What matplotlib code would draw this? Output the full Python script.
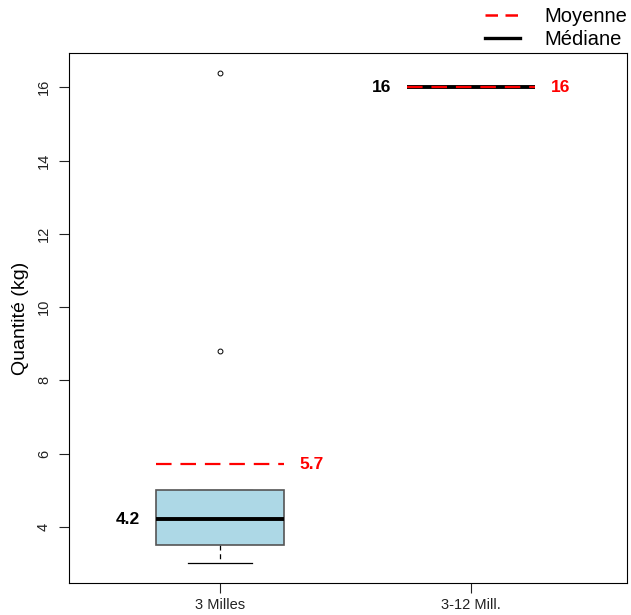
import matplotlib
matplotlib.use("Agg")
import matplotlib.pyplot as plt
from matplotlib.lines import Line2D

plt.rcParams['font.family'] = ['Liberation Sans', 'DejaVu Sans']

# data
groups = ["3 Milles", "3-12 Mill."]
q1 = [3.5, 16.0]
med = [4.2, 16.0]
q3 = [5.0, 16.0]
wlo = [3.0, 16.0]
whi = [5.0, 16.0]
outliers = [[8.8, 16.4], []]
means = [5.7, 16.0]
med_labels = ["4.2", "16"]
mean_labels = ["5.7", "16"]

fig = plt.figure(figsize=(6.31, 6.15), dpi=100)
ax = fig.add_axes([69/631, 32/615, 558/631, 530/615])

stats = []
for i in range(len(groups)):
    stats.append(dict(med=med[i], q1=q1[i], q3=q3[i], whislo=wlo[i], whishi=whi[i],
                      fliers=outliers[i], label=groups[i]))

pos = [1, 2]
bw = 0.51
ax.bxp(stats, positions=pos, widths=bw, patch_artist=True, showcaps=True,
       boxprops=dict(facecolor="#ADD8E6", edgecolor="#555555", linewidth=1.2, zorder=3),
       medianprops=dict(color="black", linewidth=2.8, solid_capstyle="butt", zorder=4),
       whiskerprops=dict(color="black", linewidth=0.9, linestyle=(0, (4, 3)), zorder=2),
       capprops=dict(color="black", linewidth=0.9, zorder=2),
       flierprops=dict(marker="o", markersize=3.5, markerfacecolor="none",
                       markeredgecolor="black", markeredgewidth=0.7))

for i, p in enumerate(pos):
    ax.hlines(means[i], p - bw/2, p + bw/2, colors="red", linewidth=1.6,
              linestyles=(0, (7, 4)), zorder=5)
    ax.annotate(med_labels[i], (p - bw/2, med[i]), xytext=(-16, 0), textcoords="offset pixels",
                ha="right", va="center", fontsize=12.5, fontweight="bold", color="black")
    ax.annotate(mean_labels[i], (p + bw/2, means[i]), xytext=(16, 0), textcoords="offset pixels",
                ha="left", va="center", fontsize=12.5, fontweight="bold", color="red")

ax.set_xlim(0.4, 2.62)
ax.set_ylim(2.464, 16.936)
ax.set_yticks([4, 6, 8, 10, 12, 14, 16])
ax.set_yticklabels(["4", "6", "8", "10", "12", "14", "16"], rotation=90, va="center")
ax.set_xticks(pos)
ax.set_xticklabels(groups)
ax.tick_params(axis="both", labelsize=10.5, length=7, width=0.8, colors="#222222")
ax.tick_params(axis="y", pad=6)
ax.set_ylabel("Quantité (kg)", fontsize=14, labelpad=6)
for s in ax.spines.values():
    s.set_linewidth(0.8)

handles = [Line2D([], [], color="red", linestyle=(0, (5, 3)), linewidth=1.8),
           Line2D([], [], color="black", linewidth=2.4)]
fig.legend(handles, ["Moyenne", "Médiane"], loc="upper right", bbox_to_anchor=(1.022, 1.018),
           frameon=False, fontsize=14.5, handlelength=1.7, handletextpad=1.2, labelspacing=0.22)

fig.savefig("out.png", dpi=100)
